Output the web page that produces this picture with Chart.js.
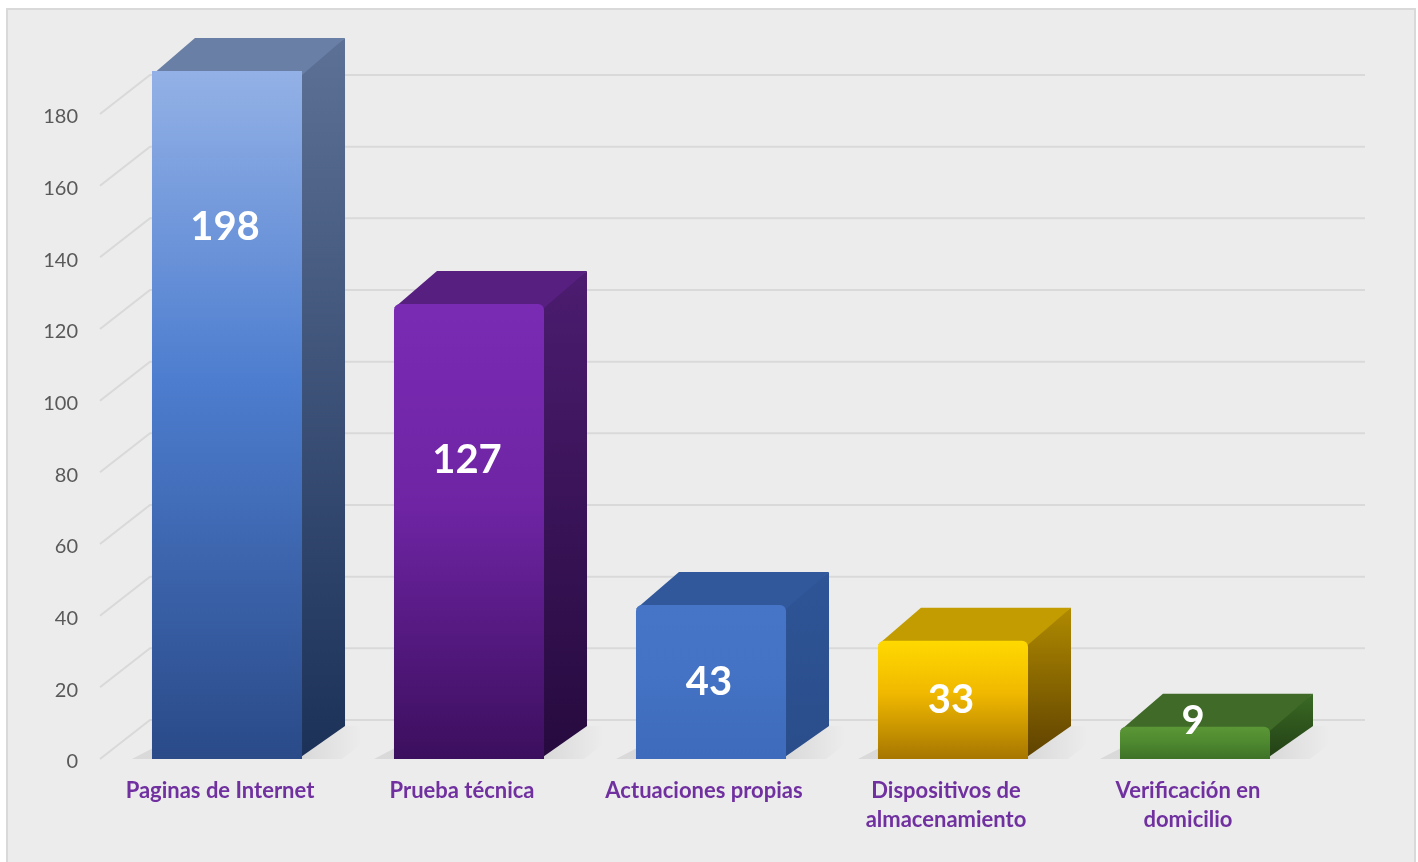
<!DOCTYPE html>
<html>
<head>
<meta charset="utf-8">
<script src="https://cdn.jsdelivr.net/npm/chart.js@4.4.1/dist/chart.umd.min.js"></script>
<style>
  html, body { margin: 0; padding: 0; background: #ffffff; }
  #wrap { width: 1418px; height: 862px; position: relative; }
</style>
</head>
<body>
<div id="wrap"><canvas id="evidenceChart"></canvas></div>
<script>
// data
const categories = [
  "Paginas de Internet",
  "Prueba técnica",
  "Actuaciones propias",
  ["Dispositivos de", "almacenamiento"],
  ["Verificación en", "domicilio"],
];
const counts = [198, 127, 43, 33, 9];
const yTicks = [0, 20, 40, 60, 80, 100, 120, 140, 160, 180];

// colours for the 3D faces (one per bar)
const frontTop = ["#93b1e6", "#7a2bb4", "#4674c6", "#ffd900", "#5b9636"];
const frontMid = ["#4d7dcf", "#6e24a3", "#4472c4", "#f0b800", "#4f8a30"];
const frontBottom = ["#2a4a88", "#3c0f5e", "#3e6bbb", "#a67600", "#3e7227"];
const sideTop = ["#5d7196", "#4c1c70", "#2f5597", "#b08a00", "#3a6a24"];
const sideBottom = ["#1c3158", "#260a3e", "#2a4d8a", "#5e4100", "#223f15"];
const topColors = ["#6a7fa6", "#561f80", "#30589b", "#c29c00", "#3f6a27"];

// 3D offsets (pixels)
const barDepth = { dx: 43, dy: -33 };
const wallDepth = { dx: 50, dy: -39 };

const fontName = "Lato, 'Open Sans', sans-serif";

function frontFill(context) {
  const chart = context.chart;
  const i = context.dataIndex;
  const yScale = chart.scales.y;
  if (!chart.chartArea || !yScale) return frontMid[i];
  const top = Math.max(yScale.getPixelForValue(counts[i]), chart.chartArea.top);
  const base = yScale.getPixelForValue(0);
  const g = chart.ctx.createLinearGradient(0, top, 0, base);
  g.addColorStop(0, frontTop[i]);
  g.addColorStop(0.45, frontMid[i]);
  g.addColorStop(1, frontBottom[i]);
  return g;
}

const threeD = {
  id: "threeD",
  beforeDraw(chart) {
    const c = chart.ctx;
    c.save();
    c.fillStyle = "#ececec";
    c.fillRect(7, 9, 1408, 870);
    c.strokeStyle = "#d9d9d9";
    c.lineWidth = 2;
    c.strokeRect(7, 9, 1408, 870);
    c.restore();
  },
  beforeDatasetsDraw(chart) {
    const c = chart.ctx;
    const area = chart.chartArea;
    const y = chart.scales.y;
    c.save();
    // back wall gridlines with the little diagonals to the tick labels
    c.strokeStyle = "#d9d9d9";
    c.lineWidth = 2;
    yTicks.forEach((v) => {
      const py = y.getPixelForValue(v);
      c.beginPath();
      c.moveTo(area.left - 6, py);
      c.lineTo(area.left - 6 + wallDepth.dx, py + wallDepth.dy);
      c.lineTo(area.right + wallDepth.dx - 1, py + wallDepth.dy);
      c.stroke();
    });

    chart.getDatasetMeta(0).data.forEach((bar, i) => {
      const x0 = bar.x - bar.width / 2;
      const x1 = bar.x + bar.width / 2;
      const top = Math.max(bar.y, area.top);
      const base = bar.base;

      // soft floor shadow
      const sh = c.createLinearGradient(x1, 0, x1 + 60, 0);
      sh.addColorStop(0, "rgba(0,0,0,0.08)");
      sh.addColorStop(1, "rgba(0,0,0,0)");
      c.fillStyle = sh;
      c.beginPath();
      c.moveTo(x0 - 20, base);
      c.lineTo(x1 + 40, base);
      c.lineTo(x1 + barDepth.dx + 40, base + barDepth.dy);
      c.lineTo(x0 + barDepth.dx, base + barDepth.dy);
      c.closePath();
      c.fill();

      // side face
      const sg = c.createLinearGradient(0, top + barDepth.dy, 0, base);
      sg.addColorStop(0, sideTop[i]);
      sg.addColorStop(1, sideBottom[i]);
      c.fillStyle = sg;
      c.beginPath();
      c.moveTo(x1 - 4, top);
      c.lineTo(x1 + barDepth.dx, top + barDepth.dy);
      c.lineTo(x1 + barDepth.dx, base + barDepth.dy);
      c.lineTo(x1 - 4, base);
      c.closePath();
      c.fill();

      // top face
      c.fillStyle = topColors[i];
      c.beginPath();
      c.moveTo(x0, top + 4);
      c.lineTo(x0 + barDepth.dx, top + barDepth.dy);
      c.lineTo(x1 + barDepth.dx, top + barDepth.dy);
      c.lineTo(x1, top + 4);
      c.closePath();
      c.fill();
    });
    c.restore();
  },
  afterDatasetsDraw(chart) {
    const c = chart.ctx;
    const area = chart.chartArea;
    c.save();
    c.fillStyle = "#ffffff";
    c.font = "bold 40px " + fontName;
    c.textAlign = "center";
    c.textBaseline = "middle";
    chart.getDatasetMeta(0).data.forEach((bar, i) => {
      const top = Math.max(bar.y, area.top);
      const base = bar.base;
      const ly = Math.min((top + base) / 2, top + 156, base - 38);
      c.fillText(String(counts[i]), bar.x - 2, ly);
    });
    c.restore();
  },
};

const ctx = document.getElementById("evidenceChart").getContext("2d");
const evidenceChart = new Chart(ctx, {
  type: "bar",
  data: {
    labels: categories,
    datasets: [
      {
        label: "Casos",
        data: counts,
        backgroundColor: frontFill,
        borderRadius: 6,
        borderSkipped: "bottom",
        categoryPercentage: 1,
        barPercentage: 0.62,
      },
    ],
  },
  options: {
    responsive: true,
    maintainAspectRatio: false,
    animation: false,
    layout: {
      padding: { left: 10, right: 102, top: 71, bottom: 13 },
    },
    scales: {
      x: {
        grid: { display: false, drawTicks: false },
        border: { display: false },
        ticks: {
          color: "#7030a0",
          font: { family: fontName, size: 22, weight: "bold", lineHeight: 1.32 },
          padding: 17,
          labelOffset: -7,
          maxRotation: 0,
          autoSkip: false,
        },
        afterFit(scale) {
          scale.height = 90;
        },
      },
      y: {
        min: 0,
        max: 192,
        grid: { display: false, drawTicks: false },
        border: { display: false },
        ticks: {
          stepSize: 20,
          color: "#595959",
          font: { family: fontName, size: 20 },
          padding: 28,
          labelOffset: 3,
          callback: (v) => (yTicks.includes(v) ? v : null),
        },
        afterFit(scale) {
          scale.width = 96;
        },
      },
    },
    plugins: {
      legend: { display: false },
      tooltip: { enabled: false },
    },
  },
  plugins: [threeD],
});
</script>
</body>
</html>
